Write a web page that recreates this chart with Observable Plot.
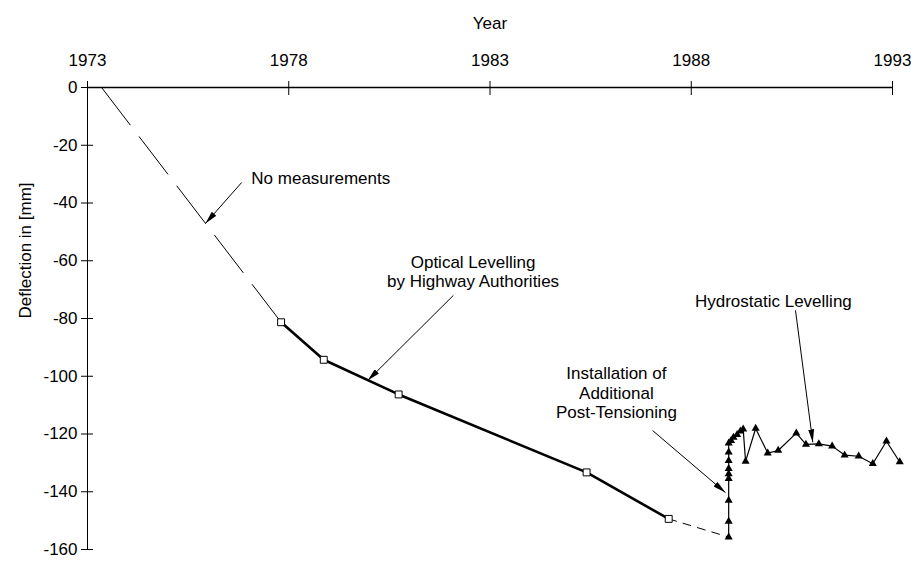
<!DOCTYPE html>
<html>
<head>
<meta charset="utf-8">
<script src="https://cdn.jsdelivr.net/npm/d3@7"></script>
<script src="https://cdn.jsdelivr.net/npm/@observablehq/plot@0.6"></script>
<style>
  html, body { margin: 0; padding: 0; background: #fff; }
</style>
</head>
<body>
<div id="chart"></div>
<script>
// ---- tick labels ----
const yearTicks = [1973, 1978, 1983, 1988, 1993];
const deflTicks = [0, -20, -40, -60, -80, -100, -120, -140, -160];

// ---- series: no measurements (estimated straight line) ----
const noMeasYear = [1973.35, 1977.81];
const noMeasDefl = [0, -81.3];

// ---- series: optical levelling by highway authorities ----
const opticalYear = [1977.81, 1978.87, 1980.73, 1985.40, 1987.44];
const opticalDefl = [-81.3, -94.3, -106.3, -133.3, -149.4];

// ---- gap between optical and hydrostatic levelling ----
const gapYear = [1987.44, 1988.93];
const gapDefl = [-149.4, -155.7];

// ---- series: hydrostatic levelling ----
const hydroYear = [1988.93, 1988.93, 1988.93, 1988.93, 1988.93, 1988.93, 1988.93, 1988.93, 1988.93,
  1988.99, 1989.05, 1989.14, 1989.22, 1989.29, 1989.35, 1989.60, 1989.90, 1990.16, 1990.61,
  1990.85, 1991.17, 1991.50, 1991.81, 1992.16, 1992.51, 1992.85, 1993.18];
const hydroDefl = [-155.7, -150.3, -143.0, -135.5, -133.8, -132.0, -129.2, -126.3, -123.2,
  -122.3, -121.2, -120.2, -119.0, -118.3, -129.5, -118.1, -126.6, -125.7, -119.7,
  -123.6, -123.4, -124.2, -127.3, -127.7, -130.3, -122.5, -129.7];

// ---- annotations ----
const noteText = ["No measurements", "Optical Levelling\nby Highway Authorities",
  "Installation of\nAdditional\nPost-Tensioning", "Hydrostatic Levelling"];
const noteYear = [1977.07, 1982.58, 1986.14, 1990.04];
const noteDefl = [-31.2, -63.6, -105.6, -73.8];
const noteAnchor = ["start", "middle", "middle", "middle"];

const arrowYear1 = [1976.83, 1982.09, 1987.04, 1990.59];
const arrowDefl1 = [-32.9, -72.0, -118.8, -77.2];
const arrowYear2 = [1975.93, 1979.96, 1988.85, 1991.02];
const arrowDefl2 = [-47.1, -101.5, -140.3, -122.9];

// ---- tables ----
const toRows = (xs, ys) => xs.map((x, i) => ({year: x, defl: ys[i]}));
const noMeas = toRows(noMeasYear, noMeasDefl);
const optical = toRows(opticalYear, opticalDefl);
const gap = toRows(gapYear, gapDefl);
const hydro = toRows(hydroYear, hydroDefl);
const notes = noteText.map((t, i) => ({text: t, year: noteYear[i], defl: noteDefl[i], anchor: noteAnchor[i]}));
const notesStart = notes.filter(d => d.anchor === "start");
const notesMiddle = notes.filter(d => d.anchor === "middle");
const arrows = arrowYear1.map((x, i) => ({x1: x, y1: arrowDefl1[i], x2: arrowYear2[i], y2: arrowDefl2[i]}));

const font = "'Liberation Sans', Arial, Helvetica, sans-serif";

const plot = Plot.plot({
  width: 911,
  height: 562,
  marginTop: 87,
  marginLeft: 87,
  marginRight: 19,
  marginBottom: 13,
  style: {fontFamily: font, fontSize: "17px", background: "#fff", color: "#000", overflow: "visible"},
  x: {domain: [1973, 1993], axis: null},
  y: {domain: [-160, 0], axis: null},
  marks: [
    // axis lines
    Plot.ruleY([0], {stroke: "#000", strokeWidth: 1.3}),
    Plot.ruleX([1973], {stroke: "#000", strokeWidth: 1}),
    // crossing ticks
    Plot.axisX(yearTicks, {anchor: "top", tickSize: 14, dy: 7, tickFormat: () => "", label: null, stroke: "#000"}),
    Plot.axisX(yearTicks, {anchor: "top", tickSize: 0, tickPadding: 22, tickFormat: d => String(d), label: null, fill: "#000"}),
    Plot.axisY(deflTicks, {anchor: "left", tickSize: 12, dx: 6, tickFormat: () => "", label: null, stroke: "#000"}),
    Plot.axisY(deflTicks, {anchor: "left", tickSize: 0, tickPadding: 10, tickFormat: d => String(d), label: null, fill: "#000"}),
    // axis titles
    Plot.text(["Year"], {frameAnchor: "top", dy: -71, text: d => d, fill: "#000"}),
    Plot.text(["Deflection in [mm]"], {frameAnchor: "left", dx: -62, rotate: -90, text: d => d, fill: "#000"}),
    // series
    Plot.line(noMeas, {x: "year", y: "defl", stroke: "#000", strokeWidth: 1, strokeDasharray: "47,15"}),
    Plot.line(gap, {x: "year", y: "defl", stroke: "#000", strokeWidth: 1, strokeDasharray: "8,7"}),
    Plot.line(optical, {x: "year", y: "defl", stroke: "#000", strokeWidth: 2.6}),
    Plot.dot(optical, {x: "year", y: "defl", symbol: "square", r: 3.9, fill: "#fff", stroke: "#000", strokeWidth: 1}),
    Plot.line(hydro, {x: "year", y: "defl", stroke: "#000", strokeWidth: 1.2}),
    Plot.dot(hydro, {x: "year", y: "defl", symbol: "triangle", r: 3, fill: "#000", stroke: "none"}),
    // annotations
    Plot.link(arrows, {x1: "x1", y1: "y1", x2: "x2", y2: "y2", stroke: "#000", strokeWidth: 1}),
    Plot.text(notesStart, {x: "year", y: "defl", text: "text", textAnchor: "start", lineHeight: 1.12, fill: "#000"}),
    Plot.text(notesMiddle, {x: "year", y: "defl", text: "text", textAnchor: "middle", lineHeight: 1.12, fill: "#000"})
  ]
});

// filled arrowheads on annotation links
const ns = "http://www.w3.org/2000/svg";
const defs = document.createElementNS(ns, "defs");
const marker = document.createElementNS(ns, "marker");
marker.setAttribute("id", "ahead");
marker.setAttribute("viewBox", "0 0 13 6");
marker.setAttribute("refX", "13");
marker.setAttribute("refY", "3");
marker.setAttribute("markerWidth", "13");
marker.setAttribute("markerHeight", "6");
marker.setAttribute("markerUnits", "userSpaceOnUse");
marker.setAttribute("orient", "auto");
const mp = document.createElementNS(ns, "path");
mp.setAttribute("d", "M0,0L13,3L0,6Z");
mp.setAttribute("fill", "#000");
marker.appendChild(mp);
defs.appendChild(marker);
plot.insertBefore(defs, plot.firstChild);
plot.querySelectorAll('g[aria-label="link"] path, g[aria-label="link"] line').forEach(p => p.setAttribute("marker-end", "url(#ahead)"));

document.getElementById("chart").appendChild(plot);
</script>
</body>
</html>
